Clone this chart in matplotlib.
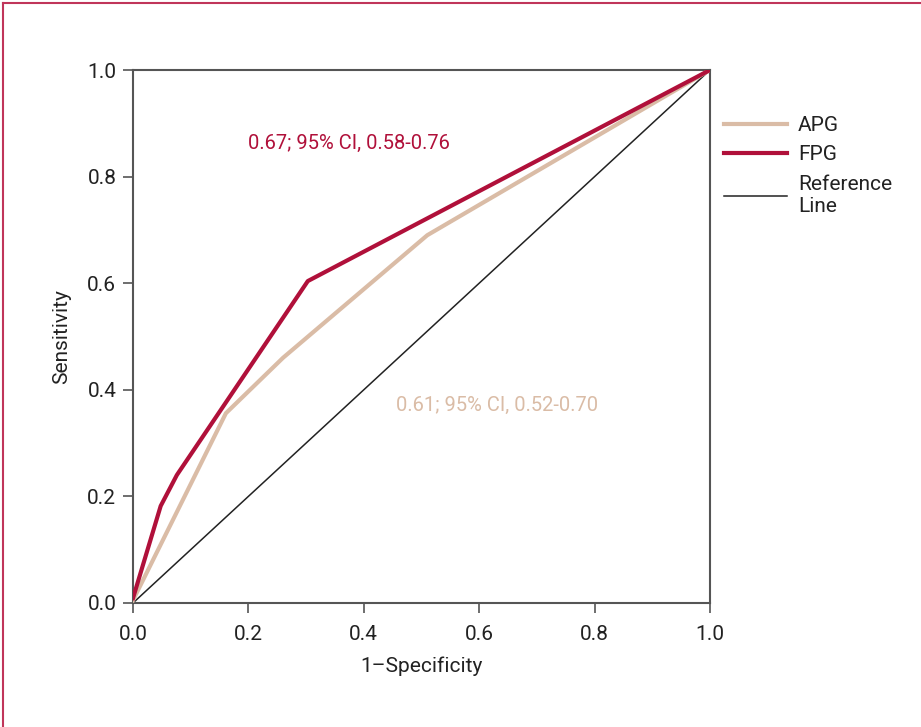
import matplotlib
matplotlib.use("Agg")
import matplotlib.pyplot as plt
from matplotlib.lines import Line2D

plt.rcParams['font.family'] = ['Roboto', 'DejaVu Sans']

# ROC curve points
apg_fpr = [0.0, 0.161, 0.26, 0.51, 1.0]
apg_tpr = [0.005, 0.356, 0.46, 0.69, 1.0]
fpg_fpr = [0.0, 0.048, 0.076, 0.303, 1.0]
fpg_tpr = [0.009, 0.182, 0.240, 0.604, 1.0]
ref_line = [0.0, 1.0]

ticks = [0.0, 0.2, 0.4, 0.6, 0.8, 1.0]
fpg_label = "0.67; 95% CI, 0.58-0.76"
apg_label = "0.61; 95% CI, 0.52-0.70"

apg_color = "#DABCA6"
fpg_color = "#B0103A"
txt_color = "#222222"

fig = plt.figure(figsize=(9.21, 7.27), dpi=100)
ax = fig.add_axes([0.1444, 0.1706, 0.6265, 0.7331])

ax.plot(ref_line, ref_line, color=txt_color, lw=1.1, zorder=2)
ax.plot(apg_fpr, apg_tpr, color=apg_color, lw=3.0, zorder=3)
ax.plot(fpg_fpr, fpg_tpr, color=fpg_color, lw=3.0, zorder=4)

ax.text(0.374, 0.863, fpg_label, color=fpg_color, fontsize=14.5,
        ha="center", va="center")
ax.text(0.631, 0.370, apg_label, color=apg_color, fontsize=14.5,
        ha="center", va="center")

ax.set_xlim(0, 1)
ax.set_ylim(0, 1)
ax.set_xticks(ticks)
ax.set_yticks(ticks)
ax.set_xticklabels([f"{t:.1f}" for t in ticks])
ax.set_yticklabels([f"{t:.1f}" for t in ticks])
ax.tick_params(direction="out", length=7, width=1.2, color="#555555",
               labelsize=15, labelcolor=txt_color)
ax.tick_params(axis="x", pad=9)
ax.tick_params(axis="y", pad=5)
for sp in ax.spines.values():
    sp.set_color("#555555")
    sp.set_linewidth(1.5)

ax.set_xlabel("1\u2013Specificity", fontsize=15, color=txt_color, labelpad=9)
ax.set_ylabel("Sensitivity", fontsize=15, color=txt_color, labelpad=12)

handles = [
    Line2D([], [], color=apg_color, lw=3.0),
    Line2D([], [], color=fpg_color, lw=3.0),
    Line2D([], [], color=txt_color, lw=1.1),
]
labels = ["APG", "FPG", "Reference\nLine"]
fig.legend(handles, labels, loc="upper left", bbox_to_anchor=(724 / 921, 1 - 116 / 727),
           frameon=False, fontsize=15, handlelength=3.0, handletextpad=0.55,
           borderpad=0, borderaxespad=0, labelspacing=0.5, labelcolor=txt_color)

# thin coloured frame along the top and left edges
frame_color = "#C0355A"
fig.add_artist(Line2D([0.003, 0.003], [0, 0.996], transform=fig.transFigure,
                      color=frame_color, lw=1.5))
fig.add_artist(Line2D([0.003, 1.0], [0.996, 0.996], transform=fig.transFigure,
                      color=frame_color, lw=1.5))

fig.savefig("out.png", dpi=100)
